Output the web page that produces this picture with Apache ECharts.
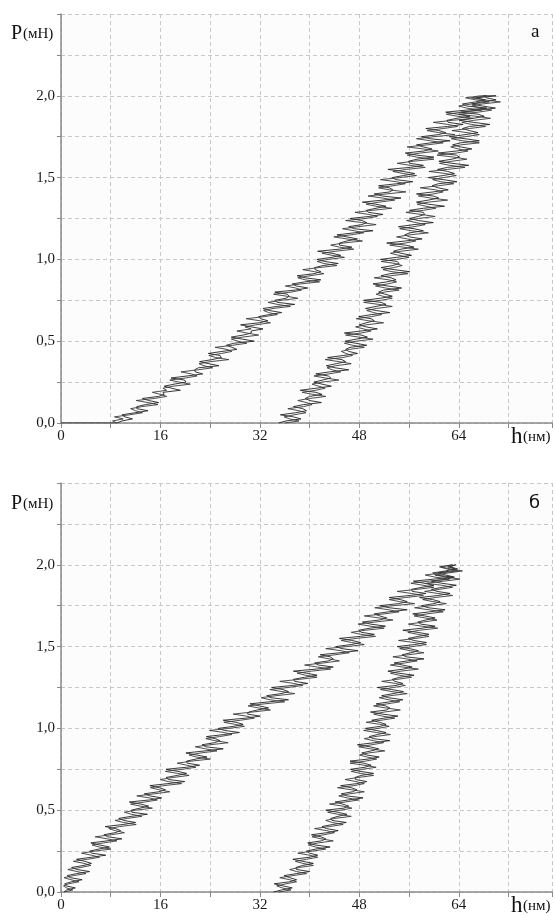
<!DOCTYPE html>
<html>
<head>
<meta charset="utf-8">
<script src="https://cdn.jsdelivr.net/npm/echarts@6/dist/echarts.min.js"></script>
<style>
html,body{margin:0;padding:0;background:#fff;}
#c{width:555px;height:917px;}
</style>
</head>
<body>
<div id="c"></div>
<script>
// Load levels P (мН): main sampling levels and the in-between levels
const pLevels = [0,0.025,0.05,0.075,0.1,0.125,0.15,0.175,0.2,0.225,0.25,0.275,0.3,0.325,0.35,0.375,0.4,0.425,0.45,0.475,0.5,0.525,0.55,0.575,0.6,0.625,0.65,0.675,0.7,0.725,0.75,0.775,0.8,0.825,0.85,0.875,0.9,0.925,0.95,0.975,1.0,1.025,1.05,1.075,1.1,1.125,1.15,1.175,1.2,1.225,1.25,1.275,1.3,1.325,1.35,1.375,1.4,1.425,1.45,1.475,1.5,1.525,1.55,1.575,1.6,1.625,1.65,1.675,1.7,1.725,1.75,1.775,1.8,1.825,1.85,1.875,1.9,1.925,1.95,1.975,2.0];
const pMid = [0.0125,0.0375,0.0625,0.0875,0.1125,0.1375,0.1625,0.1875,0.2125,0.2375,0.2625,0.2875,0.3125,0.3375,0.3625,0.3875,0.4125,0.4375,0.4625,0.4875,0.5125,0.5375,0.5625,0.5875,0.6125,0.6375,0.6625,0.6875,0.7125,0.7375,0.7625,0.7875,0.8125,0.8375,0.8625,0.8875,0.9125,0.9375,0.9625,0.9875,1.0125,1.0375,1.0625,1.0875,1.1125,1.1375,1.1625,1.1875,1.2125,1.2375,1.2625,1.2875,1.3125,1.3375,1.3625,1.3875,1.4125,1.4375,1.4625,1.4875,1.5125,1.5375,1.5625,1.5875,1.6125,1.6375,1.6625,1.6875,1.7125,1.7375,1.7625,1.7875,1.8125,1.8375,1.8625,1.8875,1.9125,1.9375,1.9625,1.9875];

// ---------- Panel a ----------
const preloadA = [[0, 0]];                       // flat start of loading (h, P)
// loading: spikes at main levels / centre at mid levels
const loadA_spike = [9.0,11.5,9.8,14.0,12.2,15.7,13.1,16.6,19.2,16.6,20.1,17.7,22.8,21.5,25.4,22.3,25.8,23.7,28.3,26.6,31.1,27.4,30.6,32.5,28.9,33.3,31.8,35.5,32.5,37.6,34.4,36.7,34.4,39.7,37.2,41.8,38.0,41.8,40.8,44.6,41.2,45.0,41.3,46.8,44.8,47.7,44.4,50.2,46.3,49.2,46.5,51.8,49.1,52.3,48.5,54.7,50.4,53.4,51.1,56.6,53.3,56.9,52.6,58.3,55.9,60.0,55.4,59.7,57.2,62.6,58.0,61.9,58.7,64.7,62.1,65.8,61.9,68.5,64.6,68.3,70.0];
const loadA_centreMid = [9.8,10.3,11.9,12.2,13.6,14.1,15.7,16.4,17.8,18.2,19.9,20.3,21.6,22.1,23.8,24.3,25.6,25.9,27.5,27.8,29.2,29.3,30.6,30.6,31.9,32.1,33.4,33.5,34.8,34.8,36.2,36.4,37.7,37.9,39.2,39.3,40.7,40.9,42.2,42.4,43.6,43.6,44.8,44.8,46.0,46.0,47.2,47.2,48.4,48.4,49.6,49.5,50.7,50.6,51.8,51.7,52.9,52.8,54.0,53.9,55.1,55.0,56.2,56.1,57.3,57.2,58.4,58.3,59.5,59.4,60.7,60.8,62.2,62.3,63.7,63.8,65.2,65.3,66.7,66.8];
// loading: centre at main levels / spikes at mid levels
const loadA_centre = [9.0,10.0,11.0,12.0,13.0,14.0,15.0,16.0,17.0,18.0,19.0,20.0,21.0,22.0,23.0,24.0,24.9,25.8,26.7,27.6,28.5,29.2,29.9,30.6,31.3,32.0,32.7,33.4,34.1,34.8,35.5,36.3,37.0,37.8,38.5,39.3,40.0,40.8,41.5,42.3,43.0,43.6,44.2,44.8,45.4,46.0,46.6,47.2,47.8,48.4,49.0,49.55,50.1,50.65,51.2,51.75,52.3,52.85,53.4,53.95,54.5,55.05,55.6,56.15,56.7,57.25,57.8,58.35,58.9,59.45,60.0,60.75,61.5,62.25,63.0,63.75,64.5,65.25,66.0,66.75,67.5];
const loadA_spikeMid = [8.3,8.6,13.1,11.2,15.6,12.1,17.0,14.7,16.4,20.8,17.5,21.9,19.3,24.4,22.2,27.0,23.8,27.5,24.8,29.9,27.4,31.8,28.3,29.6,33.7,29.8,34.8,32.6,36.9,33.3,38.1,34.2,38.7,36.1,41.6,38.1,42.3,38.9,44.4,41.2,45.6,42.0,47.1,43.4,48.5,43.9,48.7,45.3,50.7,45.8,50.9,47.3,53.2,49.1,53.7,49.4,55.5,51.1,55.4,51.4,57.2,53.4,58.6,54.1,60.0,55.7,60.7,55.7,61.5,57.2,63.4,58.9,63.8,59.9,66.3,62.0,67.7,64.0,68.9,65.1];
// unloading
const unloadA_spike = [35.0,38.6,35.3,39.5,37.4,41.9,39.3,42.0,38.5,43.5,40.7,43.4,41.0,46.3,42.7,45.8,42.9,47.7,45.8,49.2,45.7,49.3,45.6,50.9,48.0,50.4,47.9,52.9,49.0,52.3,48.7,53.3,51.1,54.8,50.2,53.9,51.5,56.1,51.5,54.4,51.4,56.4,53.5,56.8,52.4,58.1,55.3,58.3,54.3,59.9,56.1,58.5,56.1,61.7,57.2,60.8,57.2,62.3,59.7,63.7,59.1,63.3,60.6,65.6,60.8,64.1,60.7,66.1,63.0,67.3,62.5,67.1,64.6,69.0,64.1,68.1,64.3,69.9,66.1,70.0,68.0];
const unloadA_centreMid = [36.2,37.4,37.7,38.9,39.0,40.0,40.0,41.0,41.0,42.0,42.1,43.0,43.2,44.1,44.3,45.2,45.4,46.3,46.5,47.4,47.5,48.3,48.3,49.1,49.1,49.9,49.9,50.7,50.7,51.5,51.4,52.1,51.9,52.6,52.4,53.1,52.9,53.6,53.4,54.1,54.0,54.7,54.7,55.4,55.4,56.1,56.1,56.8,56.8,57.5,57.5,58.3,58.3,59.1,59.1,59.9,59.9,60.7,60.7,61.5,61.5,62.2,62.2,62.9,62.9,63.6,63.6,64.3,64.3,65.0,65.0,65.7,65.7,66.4,66.4,67.1,67.1,67.8,67.8,68.5];
const unloadA_centre = [36.0,36.8,37.5,38.3,39.0,39.5,40.0,40.5,41.0,41.5,42.0,42.55,43.1,43.65,44.2,44.75,45.3,45.85,46.4,46.95,47.5,47.9,48.3,48.7,49.1,49.5,49.9,50.3,50.7,51.1,51.5,51.75,52.0,52.25,52.5,52.75,53.0,53.25,53.5,53.75,54.0,54.35,54.7,55.05,55.4,55.75,56.1,56.45,56.8,57.15,57.5,57.9,58.3,58.7,59.1,59.5,59.9,60.3,60.7,61.1,61.5,61.85,62.2,62.55,62.9,63.25,63.6,63.95,64.3,64.65,65.0,65.35,65.7,66.05,66.4,66.75,67.1,67.45,67.8,68.15,68.5];
const unloadA_spikeMid = [38.3,35.9,39.4,36.5,40.4,38.1,42.6,38.8,42.5,40.4,44.7,40.7,45.0,42.8,46.7,42.5,46.9,45.1,48.8,45.6,50.2,45.8,49.9,47.4,51.9,47.5,51.6,49.2,53.3,48.7,53.3,50.7,54.4,50.6,54.0,50.4,55.8,51.8,54.9,51.5,56.0,53.0,57.5,52.9,57.1,54.0,59.1,54.5,58.6,55.6,60.2,55.5,60.3,57.3,62.2,57.5,61.5,57.8,63.2,59.8,63.6,59.2,65.0,60.9,65.3,60.5,65.5,62.7,67.3,62.8,67.3,62.9,68.3,64.5,69.1,64.0,69.3,66.1,70.7,66.0];

// ---------- Panel б ----------
const loadB_spike = [0.5,2.3,0.6,3.4,1.0,4.6,1.7,4.9,2.5,7.2,4.6,7.8,4.8,9.8,6.9,9.6,7.1,12.0,9.3,13.9,11.3,14.1,11.0,16.2,13.4,16.8,14.3,19.9,16.9,20.2,16.9,22.3,20.2,23.5,20.1,26.1,22.7,25.6,23.4,28.7,25.3,29.3,26.1,32.0,30.2,33.4,30.4,36.6,33.1,36.6,33.9,39.7,37.4,41.2,37.4,43.8,40.8,43.8,41.7,47.8,44.2,48.2,44.8,50.4,47.9,52.2,48.5,52.4,50.4,55.7,51.3,55.7,52.8,58.7,56.4,60.0,56.7,63.0,59.8,63.4,63.5];
const loadB_centreMid = [0.9,0.8,1.7,1.5,2.5,2.6,3.7,3.8,4.9,4.9,6.1,6.2,7.4,7.5,8.7,8.8,10.0,10.1,11.3,11.4,12.7,12.8,14.2,14.3,15.7,15.8,17.2,17.3,18.7,18.8,20.2,20.3,21.7,21.8,23.2,23.3,24.7,24.8,26.2,26.3,27.8,28.1,29.7,30.0,31.6,31.9,33.5,33.8,35.4,35.7,37.3,37.6,39.2,39.5,41.1,41.4,43.0,43.3,44.9,45.2,46.7,46.8,48.2,48.3,49.7,49.8,51.2,51.3,52.7,52.8,54.3,54.6,56.2,56.5,58.1,58.4,60.0,60.3,61.9,62.2];
const loadB_centre = [0.5,0.9,1.2,1.6,2.0,2.6,3.2,3.7,4.3,4.9,5.5,6.15,6.8,7.45,8.1,8.75,9.4,10.05,10.7,11.35,12.0,12.75,13.5,14.25,15.0,15.75,16.5,17.25,18.0,18.75,19.5,20.25,21.0,21.75,22.5,23.25,24.0,24.75,25.5,26.25,27.0,27.95,28.9,29.85,30.8,31.75,32.7,33.65,34.6,35.55,36.5,37.45,38.4,39.35,40.3,41.25,42.2,43.15,44.1,45.05,46.0,46.75,47.5,48.25,49.0,49.75,50.5,51.25,52.0,52.75,53.5,54.45,55.4,56.35,57.3,58.25,59.2,60.15,61.1,62.05,63.0];
const loadB_spikeMid = [1.9,0.4,2.9,0.5,4.0,1.1,4.8,2.0,6.2,3.3,8.0,5.0,9.0,5.5,10.2,7.7,12.1,8.7,13.0,10.2,14.7,11.2,15.5,12.2,17.5,14.4,19.4,16.0,20.6,16.8,21.7,18.7,24.0,20.6,25.1,21.6,26.9,23.3,27.5,23.9,29.5,26.2,31.1,27.7,33.7,30.1,36.0,32.2,37.6,33.6,38.9,35.2,41.2,38.0,43.4,39.2,44.8,41.4,46.4,42.6,48.8,45.1,50.6,46.7,52.0,47.8,53.4,48.8,54.4,50.5,56.9,52.8,58.3,54.1,60.0,56.3,62.5,58.6,63.9,60.9];
const unloadB_spike = [34.2,37.2,34.3,37.9,35.9,40.0,37.8,40.6,37.3,41.3,39.5,43.3,39.7,42.6,40.3,44.6,42.0,45.9,43.4,46.0,42.6,46.3,44.1,48.6,45.1,47.6,45.0,49.2,47.3,50.3,46.6,49.9,46.5,51.2,48.4,51.1,47.7,52.9,49.6,52.3,49.0,52.3,50.0,54.2,49.8,52.9,50.7,55.0,51.6,55.1,50.9,55.0,53.3,56.8,52.6,56.5,53.6,58.4,54.9,57.5,54.1,58.8,55.9,59.2,55.0,60.2,57.4,60.2,56.6,61.8,58.0,61.0,57.7,62.6,59.6,63.6,59.6,63.3,60.7,63.8,63.3];
const unloadB_centreMid = [35.5,35.7,36.8,36.8,37.9,37.9,38.9,38.9,40.0,40.0,41.0,40.9,41.9,41.8,42.8,42.7,43.7,43.6,44.6,44.5,45.5,45.3,46.2,46.0,46.9,46.7,47.6,47.4,48.3,48.1,48.9,48.7,49.4,49.2,49.9,49.7,50.4,50.2,50.9,50.7,51.4,51.2,51.9,51.7,52.4,52.2,52.9,52.7,53.4,53.2,53.9,53.7,54.5,54.3,55.1,54.9,55.7,55.5,56.3,56.1,56.9,56.7,57.5,57.3,58.1,57.9,58.7,58.5,59.3,59.1,60.0,59.8,60.7,60.5,61.4,61.2,62.1,61.9,62.8,62.6];
const unloadB_centre = [35.0,35.6,36.2,36.8,37.3,37.9,38.4,38.9,39.5,40.0,40.5,40.95,41.4,41.85,42.3,42.75,43.2,43.65,44.1,44.55,45.0,45.35,45.7,46.05,46.4,46.75,47.1,47.45,47.8,48.15,48.5,48.75,49.0,49.25,49.5,49.75,50.0,50.25,50.5,50.75,51.0,51.25,51.5,51.75,52.0,52.25,52.5,52.75,53.0,53.25,53.5,53.8,54.1,54.4,54.7,55.0,55.3,55.6,55.9,56.2,56.5,56.8,57.1,57.4,57.7,58.0,58.3,58.6,58.9,59.2,59.5,59.85,60.2,60.55,60.9,61.25,61.6,61.95,62.3,62.65,63.0];
const unloadB_spikeMid = [37.0,34.7,37.9,35.2,39.5,36.8,40.6,37.7,41.3,38.1,42.6,39.8,43.8,40.4,44.0,40.8,45.4,42.6,46.7,42.9,46.8,43.2,47.9,44.7,48.8,44.5,48.8,45.7,50.3,46.7,50.7,46.5,50.8,48.0,52.1,47.9,51.9,48.8,53.0,48.7,52.8,49.1,53.7,50.3,54.6,50.3,54.5,51.2,55.7,51.4,55.4,51.6,56.4,53.0,57.5,53.0,57.3,53.4,58.4,54.5,58.8,54.3,59.2,55.8,60.6,55.9,60.5,56.8,61.5,56.9,62.0,58.2,63.0,58.5,63.0,58.8,64.2,60.2,64.6,61.1];

// Axis tick labels
const xLabelValues = [0, 16, 32, 48, 64];
const yLabelValues = [0, 0.5, 1.0, 1.5, 2.0];

function branch(hMain, hMid) {
  const out = [];
  hMain.forEach((h, i) => {
    out.push([h, pLevels[i]]);
    if (i < hMid.length) out.push([hMid[i], pMid[i]]);
  });
  return out;
}
function loop(pre, lMain, lMid, uMain, uMid) {
  return pre.concat(branch(lMain, lMid), branch(uMain, uMid).reverse());
}

const serif = '"Liberation Serif", "DejaVu Serif", serif';
function xAxis(idx) {
  return {
    type: 'value', gridIndex: idx, min: 0, max: 79, interval: 8,
    axisLine: {show: true, lineStyle: {color: '#8a8a8a', width: 1.5}},
    axisTick: {show: true, length: 5, lineStyle: {color: '#8a8a8a'}},
    axisLabel: {
      margin: 6, color: '#1a1a1a', fontFamily: serif, fontSize: 15,
      formatter: v => xLabelValues.includes(v) ? String(v) : ''
    },
    splitLine: {show: true, lineStyle: {color: '#c8c8c8', type: [4, 3], width: 1}}
  };
}
function yAxis(idx) {
  return {
    type: 'value', gridIndex: idx, min: 0, max: 2.5, interval: 0.25,
    axisLine: {show: true, lineStyle: {color: '#8a8a8a', width: 1.5}},
    axisTick: {show: true, length: 4, lineStyle: {color: '#8a8a8a'}},
    axisLabel: {
      margin: 6, color: '#1a1a1a', fontFamily: serif, fontSize: 15,
      formatter: v => yLabelValues.some(t => Math.abs(t - v) < 1e-6) ? v.toFixed(1).replace('.', ',') : ''
    },
    splitLine: {show: true, lineStyle: {color: '#c8c8c8', type: [4, 3], width: 1}}
  };
}

const lineSeries = (idx, data, color) => ({
  type: 'line', xAxisIndex: idx, yAxisIndex: idx, data: data,
  showSymbol: false, silent: true, lineStyle: {color: color, width: 0.9}
});

const chart = echarts.init(document.getElementById('c'), null, {renderer: 'canvas'});
const txt = (x, y, t, size, font) => ({
  type: 'text', left: x, top: y,
  style: {text: t, fontSize: size, fontFamily: font || serif, fill: '#111'}
});
chart.setOption({
  animation: false,
  backgroundColor: '#fff',
  grid: [
    {left: 61, top: 14, width: 494, height: 409, backgroundColor: '#fcfcfc', show: true, borderWidth: 0},
    {left: 61, top: 483, width: 494, height: 409, backgroundColor: '#fcfcfc', show: true, borderWidth: 0}
  ],
  xAxis: [xAxis(0), xAxis(1)],
  yAxis: [yAxis(0), yAxis(1)],
  series: [
    lineSeries(0, loop(preloadA, loadA_spike, loadA_centreMid, unloadA_spike, unloadA_centreMid), '#222'),
    lineSeries(0, loop([], loadA_centre, loadA_spikeMid, unloadA_centre, unloadA_spikeMid), '#3a3a3a'),
    lineSeries(1, loop([], loadB_spike, loadB_centreMid, unloadB_spike, unloadB_centreMid), '#222'),
    lineSeries(1, loop([], loadB_centre, loadB_spikeMid, unloadB_centre, unloadB_spikeMid), '#3a3a3a')
  ],
  graphic: [
    txt(11, 24, 'P', 20),
    txt(23, 27, '(мН)', 15),
    txt(11, 494, 'P', 20),
    txt(23, 497, '(мН)', 15),
    txt(511, 425, 'h', 23),
    txt(523, 430, '(нм)', 15),
    txt(511, 894, 'h', 23),
    txt(523, 899, '(нм)', 15),
    txt(531, 23, 'а', 19),
    txt(529, 494, 'б', 18, '"DejaVu Sans", sans-serif')
  ]
});
</script>
</body>
</html>
